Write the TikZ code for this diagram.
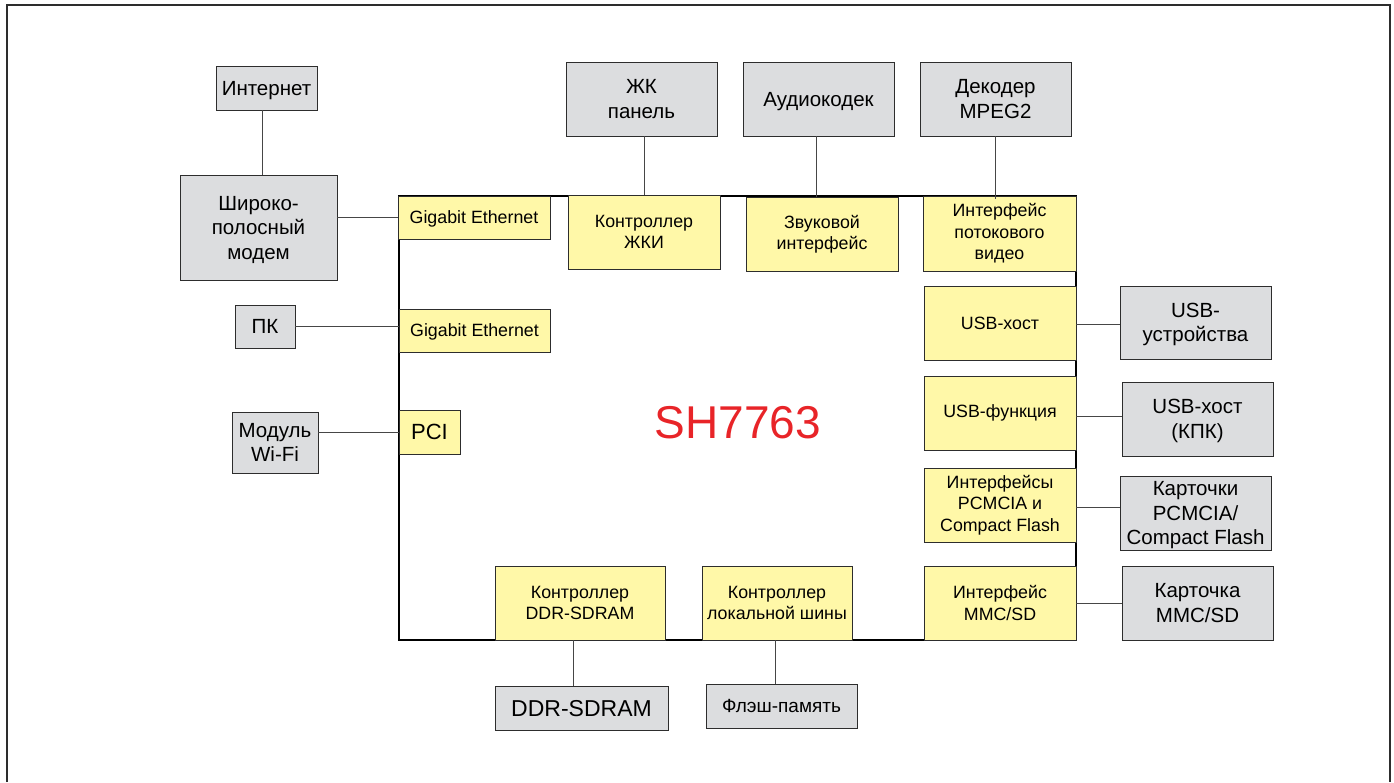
\documentclass[tikz,border=0pt]{standalone}
\usepackage{fontspec}
\setmainfont{Liberation Sans}
\definecolor{boxgrey}{RGB}{220,221,223}
\definecolor{boxyellow}{RGB}{255,248,168}
\definecolor{edge}{RGB}{45,45,45}
\definecolor{wire}{RGB}{70,70,70}
\definecolor{chipred}{RGB}{232,36,40}
\begin{document}
\begin{tikzpicture}[x=1pt,y=-1pt,
  blk/.style={draw=edge, line width=0.9pt, inner sep=0pt, align=center},
  extbox/.style={blk, fill=boxgrey, text depth=0pt, font=\fontsize{20.5}{24.5}\selectfont},
  ifbox/.style={blk, fill=boxyellow, font=\fontsize{17.8}{21.5}\selectfont},
  link/.style={draw=wire, line width=0.9pt}]
\useasboundingbox (0,0) rectangle (1394,782);

% outer frame, open at the bottom
\draw[line width=1.8pt, edge] (7,782) -- (7,5) -- (1390,5) -- (1390,782);

% the SH7763 chip
\node[draw=black, line width=2.6pt, minimum width=677pt, minimum height=444pt, inner sep=0pt] (chip) at (737.5,418) {};
\node[text=chipred, font=\fontsize{46}{46}\selectfont] (chipname) at (738,423) {SH7763};

% on-chip interfaces
\node[ifbox, minimum width=152pt, minimum height=43pt, text depth=0pt] (ge1) at (474,217.5) {Gigabit Ethernet};
\node[ifbox, minimum width=152pt, minimum height=74pt] (lcdc) at (644,232) {Контроллер\\ЖКИ};
\node[ifbox, minimum width=152pt, minimum height=74pt] (snd) at (822,234) {Звуковой\\интерфейс};
\node[ifbox, minimum width=153pt, minimum height=75pt] (vid) at (999.5,233.5) {Интерфейс\\потокового\\видео};
\node[ifbox, minimum width=151pt, minimum height=43pt, text depth=0pt] (ge2) at (474.5,330.5) {Gigabit Ethernet};
\node[ifbox, minimum width=61pt, minimum height=44pt, font=\fontsize{22}{25}\selectfont] (pci) at (429.5,432) {PCI};
\node[ifbox, minimum width=152pt, minimum height=74pt] (usbh) at (1000,323) {USB-хост};
\node[ifbox, minimum width=152pt, minimum height=74pt] (usbf) at (1000,413) {USB-функция};
\node[ifbox, minimum width=152pt, minimum height=74pt] (pcmif) at (1000,505) {Интерфейсы\\PCMCIA и\\Compact Flash};
\node[ifbox, minimum width=152pt, minimum height=74pt] (mmcif) at (1000,603) {Интерфейс\\MMC/SD};
\node[ifbox, minimum width=170pt, minimum height=74pt] (ddrc) at (580,603) {Контроллер\\DDR-SDRAM};
\node[ifbox, minimum width=150pt, minimum height=74pt] (lbc) at (777,603) {Контроллер\\локальной шины};

% external devices
\node[extbox, minimum width=101pt, minimum height=44pt] (inet) at (266.5,88) {Интернет};
\node[extbox, minimum width=157pt, minimum height=105pt] (modem) at (258.5,227.5) {Широко-\\полосный\\модем};
\node[extbox, minimum width=60pt, minimum height=43pt] (pc) at (265,326.5) {ПК};
\node[extbox, minimum width=86pt, minimum height=61pt] (wifi) at (275,442.5) {Модуль\\Wi-Fi};
\node[extbox, minimum width=151pt, minimum height=74pt] (lcd) at (641.5,99) {ЖК\\панель};
\node[extbox, minimum width=151pt, minimum height=74pt] (codec) at (818.5,99) {Аудиокодек};
\node[extbox, minimum width=151pt, minimum height=74pt] (mpeg) at (995.5,99) {Декодер\\MPEG2};
\node[extbox, minimum width=151pt, minimum height=73pt] (usbdev) at (1195.5,322.5) {USB-\\устройства};
\node[extbox, minimum width=151pt, minimum height=74pt] (pda) at (1197.5,419) {USB-хост\\(КПК)};
\node[extbox, minimum width=151pt, minimum height=74pt] (cards) at (1195.5,513) {Карточки\\PCMCIA/\\Compact Flash};
\node[extbox, minimum width=151pt, minimum height=74pt] (mmc) at (1197.5,603) {Карточка\\MMC/SD};
\node[extbox, minimum width=173pt, minimum height=44pt, font=\fontsize{23}{25}\selectfont] (ddr) at (581.5,708) {DDR-SDRAM};
\node[extbox, minimum width=151pt, minimum height=44pt, font=\fontsize{19}{22}\selectfont] (flash) at (781.5,706) {Флэш-память};

% connections
\draw[link] ([xshift=-4.5pt]inet.south) -- ([xshift=-4.5pt]inet.south |- modem.north);
\draw[link] (ge1.west) -- (ge1.west -| modem.east);
\draw[link] (pc.east) -- (pc.east -| ge2.west);
\draw[link] (pci.west) -- (pci.west -| wifi.east);
\draw[link] ([xshift=2.5pt]lcd.south) -- ([xshift=2.5pt]lcd.south |- lcdc.north);
\draw[link] ([xshift=-2.5pt]codec.south) -- ([xshift=-2.5pt]codec.south |- snd.north);
\draw[link] ([xshift=-0.5pt]mpeg.south) -- ([xshift=-0.5pt,yshift=-3pt]mpeg.south |- vid.north);
\draw[link] ([yshift=-1pt]usbh.east) -- ([yshift=-1pt]usbh.east -| usbdev.west);
\draw[link] ([yshift=-3pt]usbf.east) -- ([yshift=-3pt]usbf.east -| pda.west);
\draw[link] ([yshift=-2pt]pcmif.east) -- ([yshift=-2pt]pcmif.east -| cards.west);
\draw[link] (mmcif.east) -- (mmcif.east -| mmc.west);
\draw[link] ([xshift=-7pt]ddrc.south) -- ([xshift=-7pt]ddrc.south |- ddr.north);
\draw[link] ([xshift=-2pt]lbc.south) -- ([xshift=-2pt]lbc.south |- flash.north);
\end{tikzpicture}
\end{document}
